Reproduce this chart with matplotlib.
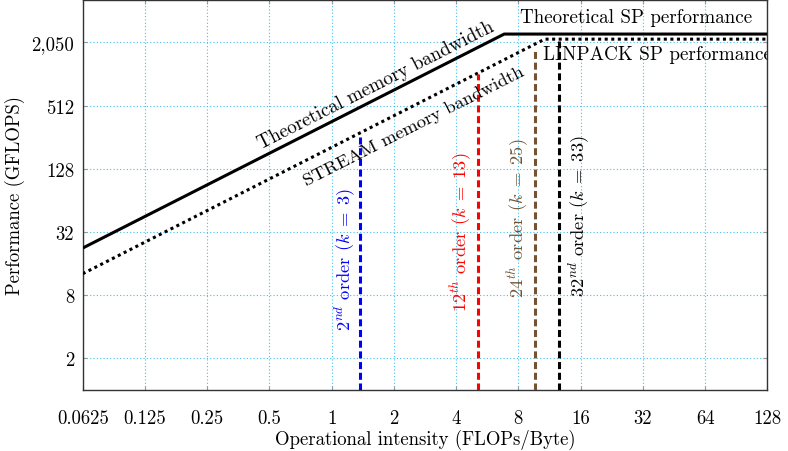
import numpy as np
import matplotlib
matplotlib.use("Agg")
import matplotlib.pyplot as plt

plt.rcParams['font.family'] = ['cmr10']
plt.rcParams['mathtext.fontset'] = 'cm'
plt.rcParams['axes.unicode_minus'] = False
plt.rcParams['axes.formatter.use_mathtext'] = True

# ---- data ----
x_ticks = [0.0625, 0.125, 0.25, 0.5, 1, 2, 4, 8, 16, 32, 64, 128]
x_tick_labels = ["0.0625", "0.125", "0.25", "0.5", "1", "2", "4", "8", "16", "32", "64", "128"]
y_ticks = [2, 8, 32, 128, 512, 2050]
y_tick_labels = ["2", "8", "32", "128", "512", "2,050"]

theo_peak = 2460      # GFLOPS
theo_bw = 360         # GB/s
linpack_peak = 2200   # GFLOPS
stream_bw = 205       # GB/s

kernel_labels = [r"$2^{nd}$ order ($k\;=\;3$)", r"$12^{th}$ order ($k\;=\;13$)",
                 r"$24^{th}$ order ($k\;=\;25$)", r"$32^{nd}$ order ($k\;=\;33$)"]
kernel_oi = [1.371, 5.12, 9.63, 12.58]
kernel_perf = [275, 1024, 1773, 2125]
kernel_colors = ["#0000ff", "#ff0000", "#735333", "#000000"]
label_x = [1.16, 4.25, 7.96, 15.7]
label_y = [17.8, 32.7, 44.5, 46.5]

xmin, xmax = 0.0625, 128
ymin, ymax = 1, 5250

fig = plt.figure(figsize=(7.88, 4.52), dpi=100)
ax = fig.add_axes([82.7/788, 1-391/452, (767.3-82.7)/788, 390.5/452])
ax.set_xscale('log', base=2)
ax.set_yscale('log', base=2)
ax.set_xlim(xmin, xmax)
ax.set_ylim(ymin, ymax)

# rooflines
ridge_t = theo_peak / theo_bw
xs_t = [xmin, ridge_t, xmax]
ys_t = [min(theo_bw * x, theo_peak) for x in xs_t]
ax.plot(xs_t, ys_t, color='black', lw=2.2, solid_capstyle='butt', zorder=3)

ridge_s = linpack_peak / stream_bw
xs_s = [xmin, ridge_s, xmax]
ys_s = [min(stream_bw * x, linpack_peak) for x in xs_s]
ax.plot(xs_s, ys_s, color='black', lw=2.2, linestyle=(0, (1, 1.15)),
        dash_capstyle='butt', zorder=3)

for oi, perf, col, lab, lx, ly in zip(kernel_oi, kernel_perf, kernel_colors,
                                       kernel_labels, label_x, label_y):
    ax.plot([oi, oi], [ymin, perf], color=col, lw=2.2,
            linestyle=(0, (2.3, 1.2)), dash_capstyle='butt', zorder=3)
    ax.text(lx, ly, lab, color=col, rotation=90, ha='center', va='center',
            fontsize=13.3)

ang = np.degrees(np.arctan(31.6 / 62.24))
ax.text(1.638, 804, "Theoretical memory bandwidth", rotation=ang,
        rotation_mode='anchor', ha='center', va='center', fontsize=13.7)
ax.text(2.5, 334.5, "STREAM memory bandwidth", rotation=ang,
        rotation_mode='anchor', ha='center', va='center', fontsize=13.4)
ax.text(29.8, 3570, "Theoretical SP performance", ha='center', va='center',
        fontsize=13.7)
ax.text(10.54, 1587, "LINPACK SP performance", ha='left', va='center',
        fontsize=13.8, clip_on=True)

ax.set_xticks(x_ticks)
ax.set_xticklabels(x_tick_labels)
ax.set_yticks(y_ticks)
ax.set_yticklabels(y_tick_labels)
ax.minorticks_off()
ax.tick_params(axis='both', direction='in', length=3, color='#999999',
               labelsize=13.5, pad=6)
ax.tick_params(axis='x', pad=14)
ax.tick_params(top=True, right=True)
ax.grid(True, color='#3fc0ee', linestyle=(0, (1, 2)), lw=0.8, zorder=0)
for s in ax.spines.values():
    s.set_color('#333333')
    s.set_linewidth(1.0)

ax.set_xlabel("Operational intensity (FLOPs/Byte)", fontsize=13.5, labelpad=1)
ax.set_ylabel("Performance (GFLOPS)", fontsize=13.5, labelpad=5)

fig.savefig("out.png", dpi=100)
